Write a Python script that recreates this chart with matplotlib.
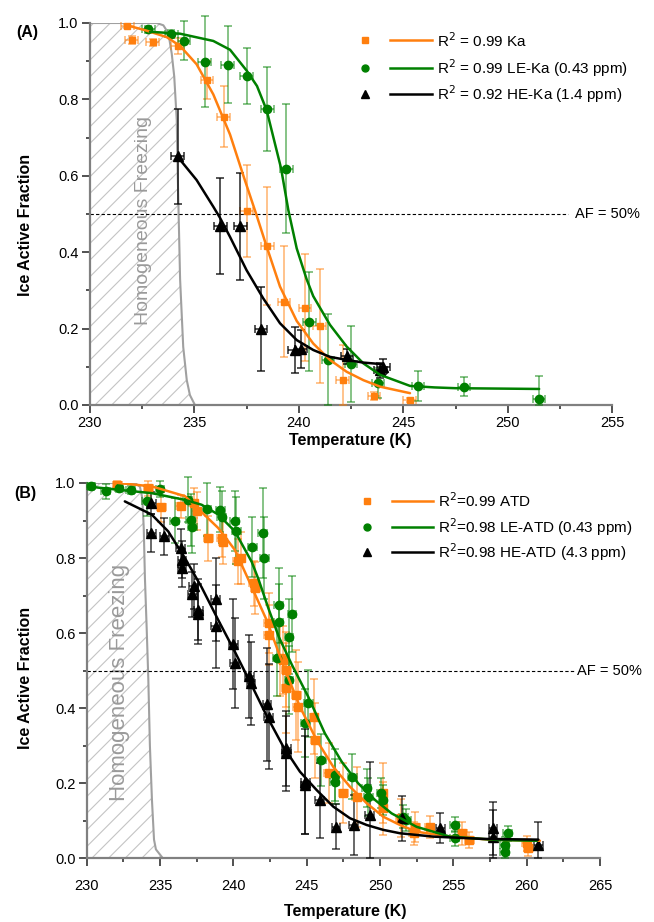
import numpy as np
import matplotlib
matplotlib.use("Agg")
import matplotlib.pyplot as plt

plt.rcParams['font.family'] = ['Liberation Sans Narrow', 'Liberation Sans', 'DejaVu Sans']
plt.rcParams['hatch.color'] = '#c4c4c4'
plt.rcParams['hatch.linewidth'] = 0.8

ORANGE = '#ff7f0e'
GREEN = '#008000'
BLACK = '#000000'

# ---------------- Panel A data (kaolinite) ----------------
T_ka = [231.8, 232.0, 233.0, 234.2, 235.6, 236.4, 237.5, 238.5, 239.3, 240.3, 241.0, 242.1, 243.6, 245.3]
AF_ka = [0.993, 0.955, 0.949, 0.94, 0.85, 0.755, 0.507, 0.416, 0.27, 0.254, 0.207, 0.066, 0.023, 0.013]
yerr_ka = [0.005, 0.01, 0.01, 0.02, 0.05, 0.08, 0.12, 0.155, 0.145, 0.14, 0.15, 0.09, 0.01, 0.005]

T_leka = [232.8, 233.9, 234.5, 235.5, 236.6, 237.5, 238.5, 239.4, 240.5, 241.4, 242.5, 243.8, 245.7, 247.9, 251.5]
AF_leka = [0.983, 0.971, 0.954, 0.899, 0.891, 0.861, 0.774, 0.619, 0.218, 0.118, 0.108, 0.058, 0.05, 0.048, 0.016]
yerr_leka = [0.01, 0.01, 0.05, 0.12, 0.1, 0.073, 0.11, 0.17, 0.13, 0.12, 0.1, 0.04, 0.04, 0.025, 0.06]

T_heka = [234.2, 236.25, 237.2, 238.2, 239.8, 240.1, 242.3, 243.9, 244.05]
AF_heka = [0.651, 0.468, 0.468, 0.20, 0.144, 0.146, 0.127, 0.091, 0.10]
yerr_heka = [0.125, 0.125, 0.14, 0.11, 0.06, 0.05, 0.02, 0.02, 0.02]

# fitted curves
fitT_ka = [231.77, 232.72, 233.68, 234.32, 235.11, 235.91, 236.71, 237.35, 237.99, 238.46, 239.1, 239.9, 240.69, 241.49, 242.29, 243.09, 243.89, 245.32]
fitAF_ka = [0.994, 0.98, 0.963, 0.94, 0.892, 0.813, 0.708, 0.60, 0.495, 0.415, 0.31, 0.22, 0.161, 0.118, 0.087, 0.065, 0.048, 0.031]
fitT_leka = [232.88, 234.32, 235.91, 236.71, 237.51, 238.0, 238.46, 239.15, 239.5, 239.9, 240.37, 240.69, 241.49, 242.29, 243.09, 243.89, 245.32, 246.5, 247.5, 251.5]
fitAF_leka = [0.977, 0.972, 0.953, 0.93, 0.875, 0.835, 0.772, 0.62, 0.51, 0.41, 0.33, 0.285, 0.21, 0.153, 0.109, 0.079, 0.05, 0.046, 0.044, 0.042]
fitT_heka = [234.17, 235.11, 235.91, 236.23, 236.71, 237.5, 238.3, 239.1, 239.9, 240.69, 241.49, 242.29, 243.09, 243.97]
fitAF_heka = [0.652, 0.589, 0.519, 0.49, 0.44, 0.353, 0.279, 0.214, 0.17, 0.144, 0.126, 0.118, 0.111, 0.107]

homT_A = [230.0, 233.2, 233.52, 233.76, 233.92, 234.04, 234.16, 234.2, 234.25, 234.32, 234.47, 234.64, 234.79, 235.03]
homAF_A = [1.0, 1.0, 0.994, 0.973, 0.92, 0.86, 0.746, 0.62, 0.5, 0.33, 0.152, 0.065, 0.026, 0.0]

legend_A = ['R$^2$ = 0.99 Ka', 'R$^2$ = 0.99 LE-Ka (0.43 ppm)', 'R$^2$ = 0.92 HE-Ka (1.4 ppm)']

# ---------------- Panel B data (ATD) ----------------
T_atd = [232.1, 234.2, 235.1, 236.4, 237.3, 237.5, 238.3, 239.2, 239.3, 240.3, 240.5, 241.4, 241.5, 242.4, 242.4, 243.2, 243.4, 243.6, 243.6, 244.3, 244.4, 245.5, 245.6, 246.5, 247.5, 248.4, 250.2, 250.2, 251.4, 252.3, 252.4, 253.4, 255.6, 256.1, 260.0, 260.1]
AF_atd = [0.995, 0.986, 0.937, 0.938, 0.946, 0.925, 0.853, 0.853, 0.844, 0.791, 0.80, 0.733, 0.72, 0.626, 0.595, 0.533, 0.528, 0.502, 0.453, 0.435, 0.404, 0.377, 0.315, 0.227, 0.173, 0.164, 0.133, 0.173, 0.107, 0.067, 0.084, 0.084, 0.067, 0.049, 0.04, 0.027]
yerr_atd = [0.01, 0.02, 0.04, 0.03, 0.04, 0.05, 0.06, 0.05, 0.06, 0.06, 0.07, 0.06, 0.07, 0.08, 0.08, 0.10, 0.09, 0.10, 0.12, 0.12, 0.12, 0.10, 0.10, 0.08, 0.08, 0.08, 0.07, 0.08, 0.05, 0.03, 0.04, 0.03, 0.03, 0.02, 0.02, 0.02]

T_leatd = [230.3, 231.3, 232.2, 233.0, 234.1, 235.0, 236.0, 236.9, 237.2, 237.1, 238.2, 239.1, 239.2, 240.1, 240.2, 241.3, 242.0, 242.1, 243.1, 243.1, 244.0, 243.8, 243.0, 243.8, 245.1, 244.9, 246.0, 246.9, 246.9, 248.1, 249.1, 249.2, 250.1, 250.2, 251.6, 251.8, 255.1, 255.1, 258.7, 258.5, 258.5]
AF_leatd = [0.991, 0.978, 0.987, 0.982, 0.951, 0.984, 0.90, 0.955, 0.884, 0.902, 0.93, 0.929, 0.91, 0.898, 0.873, 0.83, 0.866, 0.80, 0.674, 0.63, 0.651, 0.59, 0.533, 0.475, 0.413, 0.36, 0.262, 0.222, 0.204, 0.218, 0.187, 0.164, 0.173, 0.156, 0.111, 0.102, 0.089, 0.054, 0.067, 0.036, 0.018]
yerr_leatd = [0.01, 0.02, 0.01, 0.01, 0.04, 0.02, 0.06, 0.06, 0.07, 0.07, 0.07, 0.06, 0.07, 0.08, 0.09, 0.08, 0.12, 0.11, 0.1, 0.1, 0.1, 0.1, 0.1, 0.09, 0.09, 0.09, 0.07, 0.07, 0.06, 0.06, 0.05, 0.05, 0.04, 0.04, 0.03, 0.03, 0.02, 0.02, 0.02, 0.02, 0.02]

T_heatd = [234.4, 234.4, 235.3, 236.4, 236.5, 236.5, 237.3, 237.2, 237.6, 237.6, 238.8, 238.8, 240.0, 240.1, 241.1, 241.2, 242.3, 242.4, 243.6, 243.6, 244.9, 244.9, 245.9, 247.0, 248.2, 249.3, 251.5, 254.1, 257.7, 257.7, 260.8]
AF_heatd = [0.947, 0.867, 0.858, 0.827, 0.796, 0.774, 0.725, 0.703, 0.663, 0.65, 0.69, 0.618, 0.571, 0.52, 0.485, 0.466, 0.41, 0.377, 0.293, 0.28, 0.204, 0.195, 0.155, 0.084, 0.089, 0.116, 0.107, 0.082, 0.08, 0.058, 0.036]
yerr_heatd = [0.03, 0.05, 0.05, 0.05, 0.05, 0.05, 0.06, 0.06, 0.08, 0.08, 0.11, 0.11, 0.12, 0.12, 0.11, 0.11, 0.15, 0.14, 0.1, 0.1, 0.14, 0.13, 0.1, 0.06, 0.08, 0.14, 0.06, 0.04, 0.07, 0.07, 0.06]

fitT_atd = [232.15, 234.43, 236.7, 238.97, 240.1, 241.0, 242.3, 243.4, 244.54, 245.68, 246.81, 247.95, 249.09, 250.22, 251.36, 252.5, 254.77, 257.5, 260.9]
fitAF_atd = [1.0, 0.991, 0.965, 0.88, 0.822, 0.745, 0.632, 0.515, 0.404, 0.315, 0.244, 0.191, 0.147, 0.111, 0.089, 0.071, 0.058, 0.05, 0.047]
fitT_leatd = [230.0, 232.15, 234.43, 236.7, 237.84, 238.97, 240.11, 241.25, 241.7, 242.4, 243.1, 244.0, 245.1, 246.24, 247.38, 248.51, 249.65, 250.79, 252.5, 254.77, 258.0, 260.7]
fitAF_leatd = [0.991, 0.982, 0.973, 0.955, 0.942, 0.916, 0.871, 0.79, 0.745, 0.665, 0.59, 0.515, 0.431, 0.333, 0.258, 0.2, 0.156, 0.12, 0.084, 0.058, 0.049, 0.047]
fitT_heatd = [232.6, 234.43, 235.56, 236.7, 237.84, 238.97, 240.11, 241.2, 242.27, 243.4, 244.54, 245.68, 246.81, 247.95, 249.09, 250.22, 251.36, 253.63, 257.0, 260.8]
fitAF_heatd = [0.951, 0.916, 0.871, 0.80, 0.722, 0.635, 0.55, 0.465, 0.38, 0.298, 0.231, 0.182, 0.138, 0.107, 0.089, 0.076, 0.067, 0.058, 0.052, 0.05]

homT_B = [230.0, 233.29, 233.63, 233.79, 233.89, 233.97, 234.09, 234.2, 234.31, 234.45, 234.59, 234.72, 235.2]
homAF_B = [1.0, 1.0, 0.99, 0.96, 0.88, 0.747, 0.613, 0.48, 0.30, 0.155, 0.05, 0.024, 0.0]

legend_B = ['R$^2$=0.99 ATD', 'R$^2$=0.98 LE-ATD (0.43 ppm)', 'R$^2$=0.98 HE-ATD (4.3 ppm)']

XERR = 0.3
AF_THRESHOLD = 0.5

fig = plt.figure(figsize=(6.54, 9.22), dpi=100)
W, H = 654.0, 922.0
axA = fig.add_axes([89.8 / W, 1 - 405 / H, 522.5 / W, 382 / H])
axB = fig.add_axes([86.7 / W, 1 - 858.4 / H, 513.3 / W, 375.4 / H])


def style(ax, xmax, xpad):
    ax.set_xlim(230, xmax)
    ax.set_ylim(0, 1.0)
    for s in ['top', 'right']:
        ax.spines[s].set_visible(False)
    for s in ['left', 'bottom']:
        ax.spines[s].set_color('#808080')
        ax.spines[s].set_linewidth(1.6)
    ax.set_xticks(np.arange(230, xmax + 1, 5))
    ax.set_xticks(np.arange(232.5, xmax, 5), minor=True)
    ax.set_yticks(np.arange(0, 1.01, 0.2))
    ax.set_yticklabels(['0.0', '0.2', '0.4', '0.6', '0.8', '1.0'])
    ax.set_yticks(np.arange(0.1, 1.0, 0.2), minor=True)
    ax.tick_params(which='major', length=6, width=1.2, color='#333333', labelsize=10.5, pad=2)
    ax.tick_params(which='minor', length=3, width=1.2, color='#333333')
    ax.tick_params(axis='x', which='major', pad=xpad)


def homogeneous(ax, hT, hAF, tx, ty, fs):
    ax.fill(list(hT) + [230.0], list(hAF) + [0.0], facecolor='none', hatch='//',
            edgecolor='#c4c4c4', linewidth=0, zorder=0)
    ax.plot(hT, hAF, color='#a0a0a0', lw=1.5, zorder=1)
    ax.text(tx, ty, 'Homogeneous Freezing', rotation=90, color='#9a9a9a',
            fontsize=fs, ha='center', va='center', zorder=1)


def series(ax, T, AF, yerr, color, ecolor, marker, ms):
    T = np.asarray(T); AF = np.asarray(AF); yerr = np.asarray(yerr)
    lower = np.minimum(yerr, AF)
    eb = ax.errorbar(T, AF, yerr=[lower, yerr], xerr=XERR, fmt='none', ecolor=ecolor,
                     elinewidth=1.1, capsize=3, capthick=1.1, zorder=3)
    for art in eb.lines[1] + eb.lines[2]:
        art.set_clip_on(False)
    ax.plot(T, AF, ls='none', marker=marker, color=color, ms=ms, mec=color,
            zorder=4, clip_on=False)


def fitline(ax, T, AF, color):
    ax.plot(T, AF, color=color, lw=1.8, zorder=5, solid_capstyle='round', solid_joinstyle='round')


def legend(ax, labels, x0, ys):
    specs = [('s', ORANGE, 4.5), ('o', GREEN, 5), ('^', BLACK, 5.5)]
    for (m, c, ms), lab, y in zip(specs, labels, ys):
        ax.plot([x0], [y], marker=m, color=c, ms=ms, transform=ax.transAxes, clip_on=False)
        ax.plot([x0 + 0.048, x0 + 0.128], [y, y], color=c, lw=1.8, transform=ax.transAxes, clip_on=False)
        ax.text(x0 + 0.138, y, lab, transform=ax.transAxes, va='center', ha='left', fontsize=11)


# ---------------- Panel A ----------------
style(axA, 255, 2)
homogeneous(axA, homT_A, homAF_A, 232.55, 0.484, 14)
axA.plot([230, 252.9], [AF_THRESHOLD, AF_THRESHOLD], color='black', lw=0.8, dashes=(3, 2), zorder=2)
axA.text(253.2, AF_THRESHOLD, 'AF = 50%', va='center', ha='left', fontsize=10.5, clip_on=False)
series(axA, T_ka, AF_ka, yerr_ka, ORANGE, (1.0, 0.5, 0.05, 0.6), 's', 5)
series(axA, T_leka, AF_leka, yerr_leka, GREEN, (0.0, 0.5, 0.0, 0.6), 'o', 6)
series(axA, T_heka, AF_heka, yerr_heka, BLACK, (0.0, 0.0, 0.0, 0.85), '^', 6.5)
fitline(axA, fitT_ka, fitAF_ka, ORANGE)
fitline(axA, fitT_leka, fitAF_leka, GREEN)
fitline(axA, fitT_heka, fitAF_heka, BLACK)
legend(axA, legend_A, 0.527, [0.955, 0.882, 0.814])
axA.set_ylabel('Ice Active Fraction', fontsize=11.5, fontweight='bold')
axA.yaxis.set_label_coords(-0.109, 0.471)
axA.set_xlabel('Temperature (K)', fontsize=11.5, fontweight='bold')
axA.xaxis.set_label_coords(0.498, -0.074)
fig.text(27 / W, 1 - 33 / H, '(A)', fontsize=11.5, fontweight='bold', ha='center', va='center')

# ---------------- Panel B ----------------
style(axB, 265, 9)
homogeneous(axB, homT_B, homAF_B, 232.27, 0.47, 16)
axB.plot([230, 263.2], [AF_THRESHOLD, AF_THRESHOLD], color='black', lw=0.8, dashes=(3, 2), zorder=2)
axB.text(263.4, AF_THRESHOLD, 'AF = 50%', va='center', ha='left', fontsize=10.5, clip_on=False)
series(axB, T_atd, AF_atd, yerr_atd, ORANGE, (1.0, 0.5, 0.05, 0.6), 's', 5.5)
series(axB, T_leatd, AF_leatd, yerr_leatd, GREEN, (0.0, 0.5, 0.0, 0.6), 'o', 6)
series(axB, T_heatd, AF_heatd, yerr_heatd, BLACK, (0.0, 0.0, 0.0, 0.75), '^', 6.5)
fitline(axB, fitT_atd, fitAF_atd, ORANGE)
fitline(axB, fitT_leatd, fitAF_leatd, GREEN)
fitline(axB, fitT_heatd, fitAF_heatd, BLACK)
legend(axB, legend_B, 0.547, [0.953, 0.882, 0.815])
axB.set_ylabel('Ice Active Fraction', fontsize=11.5, fontweight='bold')
axB.yaxis.set_label_coords(-0.105, 0.48)
axB.set_xlabel('Temperature (K)', fontsize=11.5, fontweight='bold')
axB.xaxis.set_label_coords(0.503, -0.121)
fig.text(25 / W, 1 - 493 / H, '(B)', fontsize=11.5, fontweight='bold', ha='center', va='center')

fig.savefig('out.png', dpi=100)
